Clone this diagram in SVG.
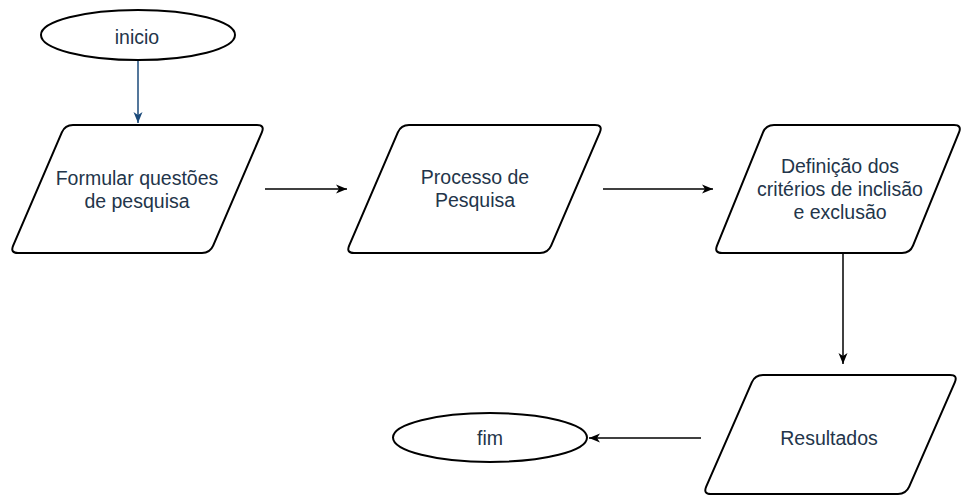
<svg xmlns="http://www.w3.org/2000/svg" width="963" height="498" viewBox="0 0 963 498">
<style>
.shape{fill:#ffffff;stroke:#000000;stroke-width:2}
.lbl{font-family:"Liberation Sans",Arial,sans-serif;font-size:19.5px;fill:#23354a;text-anchor:middle}
.edge{fill:none;stroke:#000000;stroke-width:1.5}
.edge-blue{fill:none;stroke:#1b4a7a;stroke-width:1.5}
</style>
<defs>
<marker id="arr" markerUnits="userSpaceOnUse" markerWidth="11" markerHeight="10" refX="11" refY="5" orient="auto">
<path d="M0,0.5 L11,5 L0,9.5 L3,5 Z" fill="#000000"/>
</marker>
<marker id="arrBlue" markerUnits="userSpaceOnUse" markerWidth="11" markerHeight="10" refX="11" refY="5" orient="auto">
<path d="M0,0.5 L11,5 L0,9.5 L3,5 Z" fill="#1b4a7a"/>
</marker>
</defs>
<rect width="963" height="498" fill="#ffffff"/>
<g id="connectors">
<path class="edge-blue" d="M138,60 L138,123" marker-end="url(#arrBlue)"/>
<path class="edge" d="M265,189 L347,189" marker-end="url(#arr)"/>
<path class="edge" d="M603,189 L713,189" marker-end="url(#arr)"/>
<path class="edge" d="M843,253 L843,364" marker-end="url(#arr)"/>
<path class="edge" d="M701,438 L589,438" marker-end="url(#arr)"/>
</g>
<g id="inicio">
<ellipse class="shape" cx="138" cy="35" rx="97" ry="25"/>
<text class="lbl" x="137" y="43.5">inicio</text>
</g>
<g id="formular">
<path class="shape" d="M73,125 L257,125 Q265,125 261.84,132.35 L213.16,245.65 Q210,253 202,253 L18,253 Q10,253 13.16,245.65 L61.84,132.35 Q65,125 73,125 Z"/>
<text class="lbl" x="137" y="185">Formular questões</text>
<text class="lbl" x="137" y="208">de pesquisa</text>
</g>
<g id="processo">
<path class="shape" d="M409,125 L595,125 Q603,125 599.84,132.35 L551.16,245.65 Q548,253 540,253 L354,253 Q346,253 349.16,245.65 L397.84,132.35 Q401,125 409,125 Z"/>
<text class="lbl" x="475" y="183.5">Processo de</text>
<text class="lbl" x="475" y="206.5">Pesquisa</text>
</g>
<g id="definicao">
<path class="shape" d="M774,125 L954,125 Q962,125 959,132.4 L913,245.6 Q910,253 902,253 L722,253 Q714,253 717,245.6 L763,132.4 Q766,125 774,125 Z"/>
<text class="lbl" x="840" y="173">Definição dos</text>
<text class="lbl" x="840" y="196">critérios de inclisão</text>
<text class="lbl" x="840" y="219">e exclusão</text>
</g>
<g id="resultados">
<path class="shape" d="M763,375 L950,375 Q958,375 954.8,382.3 L909.2,486.7 Q906,494 898,494 L711,494 Q703,494 706.2,486.7 L751.8,382.3 Q755,375 763,375 Z"/>
<text class="lbl" x="829" y="445">Resultados</text>
</g>
<g id="fim">
<ellipse class="shape" cx="490" cy="437.5" rx="97" ry="24.5"/>
<text class="lbl" x="490" y="445">fim</text>
</g>
</svg>
